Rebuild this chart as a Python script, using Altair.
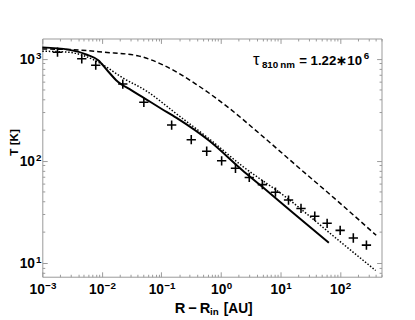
import altair as alt
import pandas as pd

# ---- data ----
cross_x = [0.0018, 0.0046, 0.0079, 0.0225, 0.0508, 0.149, 0.318, 0.578, 1.03, 1.76,
           3.0, 4.98, 8.26, 13.7, 22.2, 37.8, 61, 101, 168, 279]
cross_T = [1160, 1000, 865, 565, 375, 224, 161, 124, 100, 84.5,
           68.7, 58.4, 49.2, 41.2, 34.1, 28.6, 24.4, 20.8, 17.5, 14.9]

solid_x = [0.001, 0.00275, 0.00562, 0.0087, 0.0126, 0.0174, 0.0316, 0.0513, 0.1, 0.18,
           0.638, 2.27, 4.85, 17.2, 65.2]
solid_T = [1294, 1230, 1096, 966, 759, 617, 490, 412, 324, 263,
           157, 81.3, 56.2, 30.1, 15.7]

dotted_x = [0.001, 0.00275, 0.00759, 0.0126, 0.0209, 0.0575, 0.18, 0.638, 2.27, 11.7, 100, 398]
dotted_T = [1186, 1159, 966, 813, 667, 479, 288, 164, 89.1, 45.1, 16.2, 8.41]

dashed_x = [0.001, 0.00316, 0.0112, 0.0398, 0.11, 0.385, 1.36, 4.85, 19.5, 100, 407]
dashed_T = [1247, 1230, 1159, 1072, 863, 562, 330, 177, 87.5, 38.5, 18.6]

x_major = [1e-3, 1e-2, 1e-1, 1, 10, 100]
y_major = [10, 100, 1000]
x_ticks = [k * 10.0 ** e for e in range(-3, 3) for k in range(1, 10) if k * 10.0 ** e <= 500]
y_ticks = [k * 10.0 ** e for e in range(0, 4) for k in range(1, 10) if 7.3 <= k * 10.0 ** e <= 1580]

X_DOMAIN = [0.001, 500]
Y_DOMAIN = [7.3, 1580]

W, H = 346, 243
GRAY = "#999999"
FONT = "Liberation Sans"

xs = alt.Scale(type="log", domain=X_DOMAIN, nice=False)
ys = alt.Scale(type="log", domain=Y_DOMAIN, nice=False)

exp_expr = "replace(toString(round(log(datum.value)/LN10)), '-', '\u2212')"
major_test = "abs(log(datum.value)/LN10 - round(log(datum.value)/LN10)) < 0.01"
tick_size = {"condition": {"test": major_test, "value": 5}, "value": 2.5}
x_shift = {"condition": {"test": "datum.value < 1", "value": 2.1}, "value": 5}
x_shift_exp = {"condition": {"test": "datum.value < 1", "value": 2.6}, "value": 5.5}

base_label = dict(labelFont=FONT, labelFontWeight="bold", labelColor="black",
                  labelOverlap=False, labelFlush=False, labelBound=False,
                  ticks=False, tickSize=0, grid=False, title=None,
                  labelBaseline="alphabetic")

x_digits = alt.Axis(orient="bottom", values=x_major, labelExpr="'10'", labelFontSize=14,
                    labelAlign="right", labelOffset=x_shift, labelPadding=17.5,
                    domain=True, domainColor=GRAY, domainWidth=1, **base_label)
x_exp = alt.Axis(orient="bottom", values=x_major, labelExpr=exp_expr, labelFontSize=10,
                 labelAlign="left", labelOffset=x_shift_exp, labelPadding=12,
                 domain=False, **base_label)
y_digits = alt.Axis(orient="left", values=y_major, labelExpr="'10'", labelFontSize=14,
                    labelAlign="right", labelOffset=5, labelPadding=8,
                    domain=True, domainColor=GRAY, domainWidth=1, **base_label)
y_exp = alt.Axis(orient="left", values=y_major, labelExpr=exp_expr, labelFontSize=10,
                 labelAlign="right", labelOffset=0, labelPadding=1.5,
                 domain=False, **base_label)

common_tick = dict(labels=False, ticks=True, tickSize=tick_size, tickColor=GRAY,
                   tickWidth=1, grid=False, title=None, domainColor=GRAY, domainWidth=1)
x_tick_bottom = alt.Axis(orient="top", offset=-H, values=x_ticks, domain=False, **common_tick)
x_tick_top = alt.Axis(orient="bottom", offset=-H, values=x_ticks, domain=True, **common_tick)
y_tick_left = alt.Axis(orient="right", offset=-W, values=y_ticks, domain=False, **common_tick)
y_tick_right = alt.Axis(orient="left", offset=-W, values=y_ticks, domain=True, **common_tick)

cross_df = pd.DataFrame({"x": cross_x, "T": cross_T})

crosses = alt.Chart(cross_df).mark_point(
    shape="M-1,0L1,0M0,-1L0,1", size=90, filled=False, stroke="black",
    strokeWidth=1.6, opacity=1
).encode(
    x=alt.X("x:Q", scale=xs, axis=x_digits),
    y=alt.Y("T:Q", scale=ys, axis=y_digits),
)

# invisible copy that only carries the exponent labels
exponents = alt.Chart(cross_df).mark_point(opacity=0, size=1).encode(
    x=alt.X("x:Q", scale=xs, axis=x_exp),
    y=alt.Y("T:Q", scale=ys, axis=y_exp),
)

solid = alt.Chart(pd.DataFrame({"x": solid_x, "T": solid_T})).mark_line(
    color="black", strokeWidth=2, interpolate="monotone"
).encode(
    x=alt.X("x:Q", scale=xs, axis=x_tick_bottom),
    y=alt.Y("T:Q", scale=ys, axis=y_tick_left),
)

dotted = alt.Chart(pd.DataFrame({"x": dotted_x, "T": dotted_T})).mark_line(
    color="black", strokeWidth=1.5, strokeDash=[1.5, 1.8], interpolate="monotone"
).encode(
    x=alt.X("x:Q", scale=xs, axis=x_tick_top),
    y=alt.Y("T:Q", scale=ys, axis=y_tick_right),
)

dashed = alt.Chart(pd.DataFrame({"x": dashed_x, "T": dashed_T})).mark_line(
    color="black", strokeWidth=1.5, strokeDash=[5, 3], interpolate="monotone"
).encode(
    x=alt.X("x:Q", scale=xs, axis=None),
    y=alt.Y("T:Q", scale=ys, axis=None),
)


def txt(s, px, py, size, weight="bold", angle=0, align="left", baseline="alphabetic"):
    return alt.Chart(pd.DataFrame({"d": [0]})).mark_text(
        text=s, font=FONT, fontSize=size, fontWeight=weight, color="black",
        angle=angle, align=align, baseline=baseline
    ).encode(x=alt.value(px), y=alt.value(py))


texts = [
    txt("\u03c4", 215, 27, 17, weight="normal"),
    txt("810\u2009nm", 224, 30, 10),
    txt("= 1.22\u221710", 262, 27, 13.5),
    txt("6", 328, 21, 10),
    txt("R\u2009\u2212\u2009R", 135, 280, 15),
    txt("in", 171, 282, 10),
    txt("[AU]", 185, 280, 14),
    txt("T [K]", -25, 106, 12, angle=270, align="center"),
]

chart = alt.layer(crosses, exponents, solid, dotted, dashed, *texts).resolve_axis(
    x="independent", y="independent"
).properties(
    width=W, height=H,
    autosize=alt.AutoSizeParams(type="none"),
    padding={"left": 35, "top": 28, "right": 26, "bottom": 41},
).configure_view(stroke=None)

chart.save("out.html", embed_options={"renderer": "svg", "actions": False})
